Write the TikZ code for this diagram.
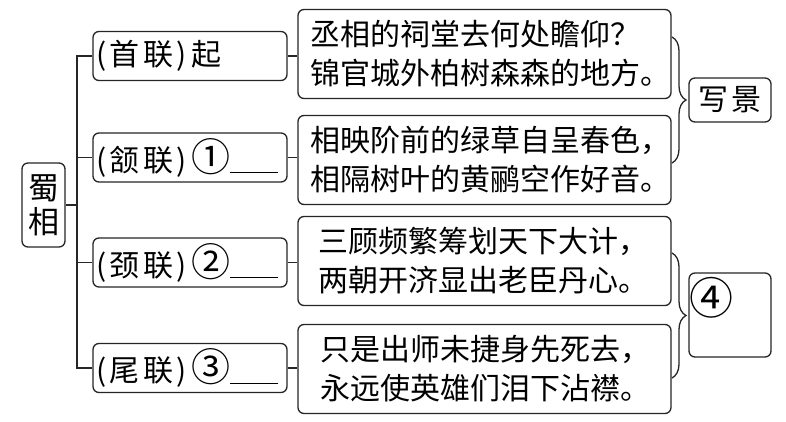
\documentclass[tikz,border=0pt]{standalone}
\usepackage{fontspec}
\setmainfont{Noto Sans CJK SC}
\newfontfamily\cjkwide[LetterSpace=12]{Noto Sans CJK SC}
\newcommand{\circnum}[1]{{\fontsize{39}{30}\selectfont #1}}
\newcommand{\rp}{)\kern4pt}
\usetikzlibrary{decorations.pathreplacing}
\begin{document}
\begin{tikzpicture}[x=1pt,y=-1pt,
  box/.style={draw=black!85,line width=1.3pt,rounded corners=6pt,inner sep=0pt},
  midbox/.style={box,minimum width=194pt,minimum height=49pt,text width=188pt,align=left,font=\fontsize{30}{30}\cjkwide},
  textbox/.style={box,minimum width=373pt,minimum height=89pt,text width=349pt,align=left,font=\fontsize{30}{39}\selectfont},
  conn/.style={draw=black!85,line width=1.3pt},
  brc/.style={draw=black!85,line width=1.3pt,decorate,decoration={brace,amplitude=14pt}}]
\useasboundingbox (0,0) rectangle (786,422);
\fill[white] (0,0) rectangle (786,422);
\node[box,minimum width=43pt,minimum height=84pt,align=center,font=\fontsize{31}{34}\selectfont] (root) at (43.5,205) {蜀\\相};
\node[midbox] (m1) at (190,56) {(首联\rp 起};
\node[midbox] (m2) at (190,157.5) {(颔联\rp\circnum{①}\underline{\hspace{48pt}}};
\node[midbox] (m3) at (190,262.5) {(颈联\rp\circnum{②}\underline{\hspace{48pt}}};
\node[midbox] (m4) at (190,368) {(尾联\rp\circnum{③}\underline{\hspace{48pt}}};
\node[textbox] (r1) at (484.5,54) {丞相的祠堂去何处瞻仰？\\锦官城外柏树森森的地方。};
\node[textbox] (r2) at (484.5,160) {相映阶前的绿草自呈春色，\\相隔树叶的黄鹂空作好音。};
\node[textbox,text width=333pt] (r3) at (484.5,261) {三顾频繁筹划天下大计，\\两朝开济显出老臣丹心。};
\node[textbox,text width=329pt] (r4) at (484.5,369) {只是出师未捷身先死去，\\永远使英雄们泪下沾襟。};
\node[box,minimum width=82pt,minimum height=44pt,font=\fontsize{30}{30}\cjkwide] (jing) at (730,100) {写景};
\node[box,minimum width=82pt,minimum height=84pt] (q4) at (730,315) {};
\node[font=\fontsize{44}{44}\selectfont,anchor=center,inner sep=0pt] (n4) at (711,298) {④};
\coordinate (spx) at (77,0);
\draw[conn] (m1.west) -| (m1.west -| spx) |- (m4.west);
\draw[conn] (m2.west) -- (m2.west -| spx);
\draw[conn] (m3.west) -- (m3.west -| spx);
\draw[conn] (root.east) -- (root.east -| spx);
\draw[conn] (m1.east) -- (m1.east -| r1.west);
\draw[conn] (m2.east) -- (m2.east -| r2.west);
\draw[conn] (m3.east) -- (m3.east -| r3.west);
\draw[conn] (m4.east) -- (m4.east -| r4.west);
\coordinate (b1a) at (672,37);
\coordinate (b1b) at (672,163);
\coordinate (b2a) at (672,253);
\coordinate (b2b) at (672,378);
\draw[brc] (b1a) -- (b1b);
\draw[brc] (b2a) -- (b2b);
\end{tikzpicture}
\end{document}
